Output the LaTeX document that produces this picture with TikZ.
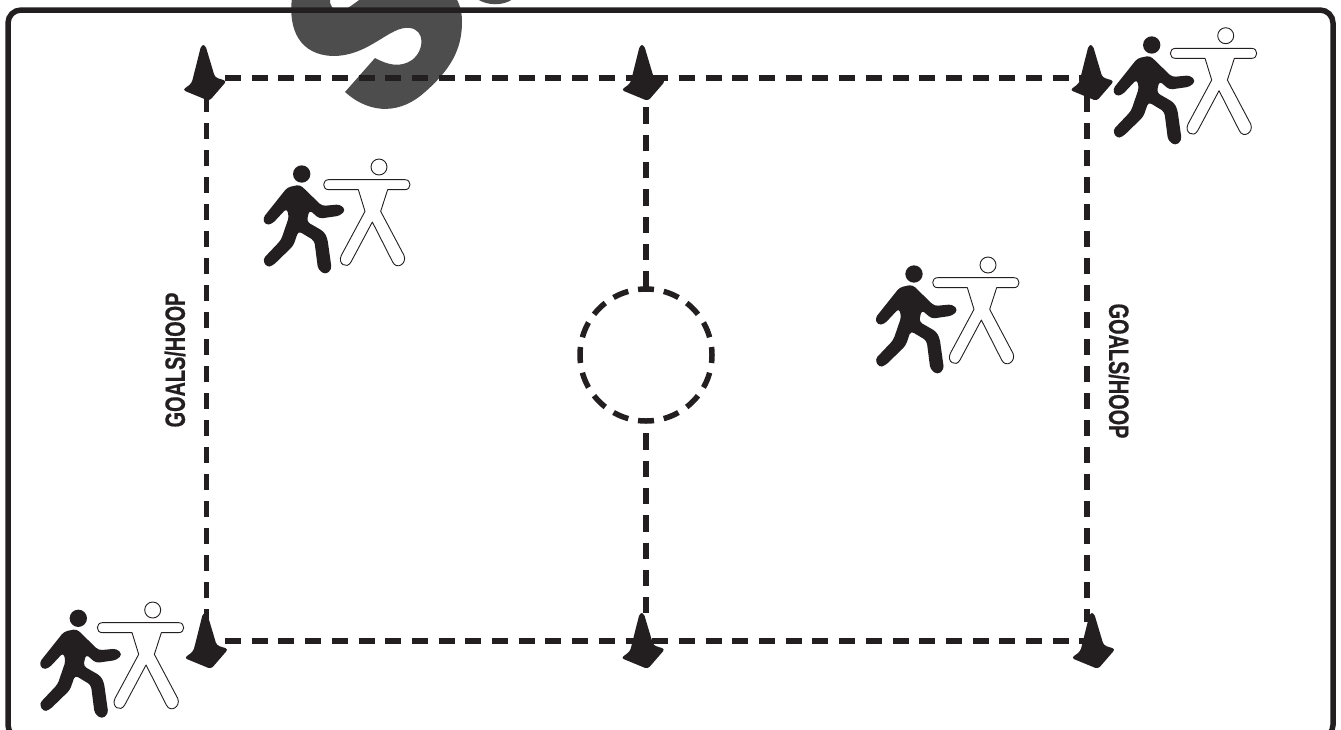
\documentclass[tikz,border=0pt]{standalone}
\usepackage{fontspec}
\newfontfamily\lab[FakeStretch=0.71,FakeBold=0.6]{Liberation Sans}
\definecolor{ink}{HTML}{231F20}
\definecolor{wmgrey}{HTML}{4D4D4D}
\tikzset{
  dashline/.style={draw=ink,line width=5.5pt,dash pattern=on 16pt off 10.7pt},
  vdashline/.style={draw=ink,line width=5.5pt,dash pattern=on 16pt off 11pt},
  mdashline/.style={draw=ink,line width=5.5pt,dash pattern=on 16.3pt off 11pt},
  frameline/.style={draw=ink,line width=5.5pt,rounded corners=13pt},
  goallabel/.style={text=ink,font=\lab\bfseries\fontsize{28}{28}\selectfont,inner sep=0pt},
  runner/.pic={
    \begin{scope}[scale=0.3333,shift={(-155,-72)}]
      \fill[ink] (155,72) circle (26);
      \fill[ink,rounded corners=3.5pt]
        (112,112) -- (150,104) -- (216,168) -- (270,163) -- (287,180) -- (270,197)
        -- (208,206) -- (178,180) -- (170,215) -- (222,245) -- (232,265) -- (245,358)
        -- (226,374) -- (204,358) -- (193,272) -- (145,243) -- (130,287) -- (68,347)
        -- (50,352) -- (38,328) -- (93,270) -- (117,200) -- (110,175) -- (66,222)
        -- (46,225) -- (38,205) -- cycle;
    \end{scope}
  },
  outlinefig/.pic={
    \begin{scope}[scale=0.3333,shift={(-387,-50)}]
      \draw[ink,line width=0.9pt,fill=white] (387,50) circle (24);
      \draw[ink,line width=0.9pt,fill=white,line join=round]
        (236,88) -- (465,88) .. controls (485,88) and (485,118) .. (465,118)
        -- (413,118) -- (392,183) -- (462,315)
        .. controls (472,340) and (440,360) .. (428,335)
        -- (367,215) -- (303,335)
        .. controls (290,358) and (262,340) .. (274,315)
        -- (345,183) -- (325,118) -- (236,118)
        .. controls (216,118) and (216,88) .. (236,88) -- cycle;
    \end{scope}
  },
  cone/.pic={
    \begin{scope}[scale=0.3333,shift={(-100,-135)}]
      \fill[ink,rounded corners=3pt] (94,135) -- (106,135) -- (135,232) -- (170,243) -- (118,303) -- (38,270) -- (65,250) -- cycle;
    \end{scope}
  }
}
\begin{document}
\begin{tikzpicture}[x=1pt,y=-1pt]
  \useasboundingbox (0,0) rectangle (1341,729);
  \clip (0,0) rectangle (1341,729);
  \fill[white] (0,0) rectangle (1341,729);
  % watermark letter
  \fill[wmgrey] (292,-2) .. controls (288,30) and (300,55) .. (333,56)
    .. controls (370,56) and (390,25) .. (410,28)
    .. controls (425,30) and (425,50) .. (412,60)
    .. controls (400,68) and (388,65) .. (375,58)
    -- (345,92) .. controls (372,116) and (402,113) .. (425,92)
    .. controls (450,70) and (462,50) .. (462,22)
    .. controls (462,12) and (460,5) .. (456,-2)
    -- (362,-2) .. controls (352,5) and (345,11) .. (340,11)
    .. controls (333,11) and (329,5) .. (330,-2) -- cycle;
  \fill[wmgrey] (477,-1) .. controls (488,6) and (503,6) .. (513,-1) -- cycle;
  % frame
  \draw[frameline] (8,10) rectangle (1333,738);
  % field anchors
  \coordinate (tl) at (225,78);
  \coordinate (tr) at (1086,78);
  \coordinate (bl) at (225,641);
  \coordinate (br) at (1086,641);
  \coordinate (ltop) at (206.7,96.3);
  \coordinate (lbot) at (206.7,622);
  \coordinate (rtop) at (1087,96.3);
  \coordinate (rbot) at (1087,622);
  \coordinate (mtop) at (646,106);
  \coordinate (mup) at (646,287.5);
  \coordinate (mdown) at (646,433.3);
  \coordinate (mbot) at (646,614);
  \coordinate (centre) at (646,355);
  % dashed lines
  \draw[dashline] (tl) -- (tr);
  \draw[dashline] (bl) -- (br);
  \draw[vdashline] (ltop) -- (lbot);
  \draw[vdashline] (rtop) -- (rbot);
  \draw[mdashline] (mup) -- (mtop);
  \draw[mdashline] (mdown) -- (mbot);
  \draw[draw=ink,line width=5.5pt,dash pattern=on 16pt off 9.92pt,dash phase=8pt] (centre) ++(0,-66) arc[start angle=-90,end angle=270,radius=66];
  % cones
  \pic (c1) at (203.3,45) {cone};
  \pic (c2) at (642,45) {cone};
  \pic (c3) at (1090.7,45) {cone};
  \pic (c4) at (205,613) {cone};
  \pic (c5) at (641.7,613) {cone};
  \pic (c6) at (1092,613) {cone};
  % figures
  \pic (o1) at (379,167) {outlinefig};
  \pic (r1) at (301.7,174) {runner};
  \pic (o2) at (1225.7,35.7) {outlinefig};
  \pic (r2) at (1151.7,45) {runner};
  \pic (o3) at (152.7,610) {outlinefig};
  \pic (r3) at (78.3,618.3) {runner};
  \pic (o4) at (988,265) {outlinefig};
  \pic (r4) at (914,274) {runner};
  % labels
  \node[goallabel,rotate=90] (gl) at (175,360) {GOALS/HOOP};
  \node[goallabel,rotate=-90] (gr) at (1119,371) {GOALS/HOOP};
\end{tikzpicture}
\end{document}
